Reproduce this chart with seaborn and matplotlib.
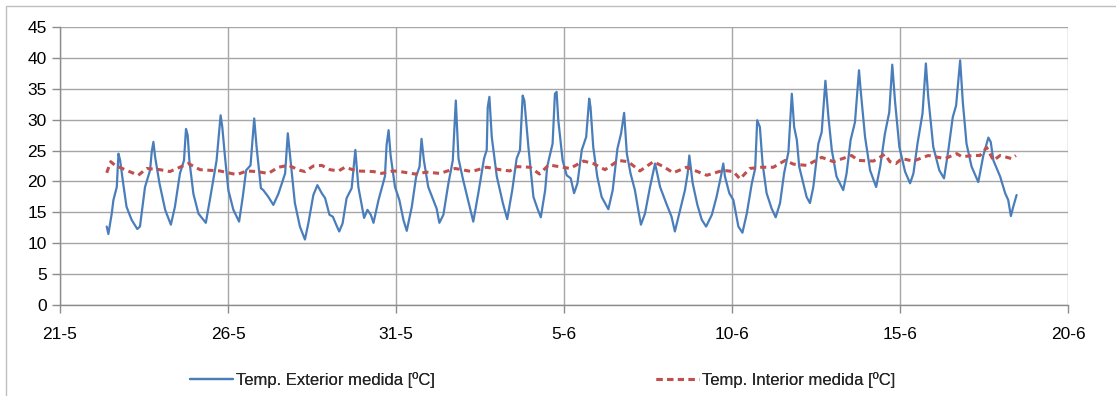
import numpy as np
import pandas as pd
import matplotlib
matplotlib.use("Agg")
import matplotlib.pyplot as plt
from matplotlib.patches import Rectangle
import seaborn as sns

# days counted from 21-5 (0) to 20-6 (30)
ext_days = [1.39, 1.44, 1.54, 1.59, 1.69, 1.74, 1.79, 1.88, 1.98, 2.13, 2.30, 2.38, 2.53, 2.68, 2.73, 2.78,
            2.83, 2.96, 3.13, 3.30, 3.42, 3.57, 3.69, 3.75, 3.80, 3.85, 3.97, 4.12, 4.34, 4.46, 4.66, 4.78,
            4.83, 4.91, 5.01, 5.16, 5.33, 5.44, 5.54, 5.67, 5.78, 5.85, 5.98, 6.05, 6.20, 6.35, 6.50, 6.70,
            6.78, 6.85, 6.99, 7.14, 7.29, 7.39, 7.54, 7.66, 7.79, 7.89, 8.02, 8.12, 8.22, 8.31, 8.41, 8.53,
            8.68, 8.79, 8.88, 9.05, 9.15, 9.25, 9.33, 9.48, 9.67, 9.72, 9.78, 9.84, 9.97, 10.10, 10.22, 10.32,
            10.47, 10.60, 10.70, 10.76, 10.83, 10.96, 11.11, 11.21, 11.29, 11.41, 11.56, 11.69, 11.78, 11.86,
            12.00, 12.18, 12.30, 12.45, 12.62, 12.70, 12.73, 12.78, 12.85, 13.00, 13.18, 13.31, 13.46, 13.59,
            13.69, 13.77, 13.82, 13.94, 14.09, 14.21, 14.31, 14.44, 14.50, 14.66, 14.73, 14.78, 14.83, 14.96,
            15.08, 15.20, 15.30, 15.40, 15.53, 15.66, 15.75, 15.79, 15.87, 15.99, 16.12, 16.32, 16.45, 16.59,
            16.70, 16.79, 16.87, 16.98, 17.11, 17.21, 17.29, 17.41, 17.56, 17.71, 17.86, 18.04, 18.20, 18.30,
            18.43, 18.60, 18.68, 18.73, 18.83, 18.97, 19.10, 19.23, 19.40, 19.54, 19.67, 19.74, 19.79, 19.92,
            20.04, 20.19, 20.31, 20.44, 20.59, 20.69, 20.75, 20.83, 20.91, 21.03, 21.18, 21.30, 21.43, 21.55,
            21.68, 21.78, 21.85, 21.93, 22.00, 22.12, 22.22, 22.32, 22.42, 22.57, 22.67, 22.78, 22.87, 22.97,
            23.11, 23.21, 23.31, 23.41, 23.53, 23.66, 23.78, 23.83, 23.96, 24.11, 24.29, 24.41, 24.55, 24.68,
            24.77, 24.85, 24.98, 25.15, 25.30, 25.40, 25.52, 25.67, 25.77, 25.84, 25.99, 26.17, 26.31, 26.44,
            26.57, 26.67, 26.79, 26.87, 26.98, 27.13, 27.33, 27.48, 27.63, 27.70, 27.78, 27.98, 28.13, 28.22,
            28.30, 28.37, 28.47]
ext_temp = [12.7, 11.5, 14.8, 17.0, 19.1, 24.5, 23.4, 19.7, 15.9, 13.8, 12.3, 12.7, 19.1, 21.8, 24.8, 26.4,
            24.0, 19.7, 15.4, 13.0, 15.9, 21.3, 23.4, 28.5, 27.5, 23.4, 18.0, 14.8, 13.3, 17.0, 23.4, 30.7,
            28.8, 24.0, 18.6, 15.4, 13.5, 17.5, 21.8, 22.6, 30.2, 25.6, 18.9, 18.6, 17.5, 16.2, 18.0, 21.3,
            27.8, 24.0, 16.5, 12.7, 10.6, 13.2, 17.8, 19.4, 18.1, 17.3, 14.6, 14.3, 13.0, 11.9, 13.2, 17.3,
            18.9, 25.1, 19.1, 14.1, 15.4, 14.6, 13.3, 17.0, 20.8, 25.9, 28.3, 24.2, 19.1, 17.0, 13.8, 12.0,
            15.9, 20.8, 22.4, 26.9, 23.4, 19.1, 17.0, 15.6, 13.3, 14.6, 19.7, 23.4, 33.1, 23.7,
            20.2, 16.2, 13.5, 18.1, 23.7, 25.1, 32.0, 33.7, 27.2, 20.8, 16.5, 13.9, 18.6, 23.7,
            25.1, 33.9, 33.1, 25.6, 17.5, 15.6, 14.2, 18.6, 22.4, 26.1, 34.2, 34.5, 29.9, 23.4,
            21.0, 20.5, 18.1, 19.7, 25.1, 27.2, 33.4, 32.0, 25.6, 20.8, 17.5, 15.5, 18.6, 25.3,
            27.8, 31.1, 24.5, 21.3, 18.6, 15.4, 13.0, 14.8, 19.1, 22.9, 19.1, 16.5, 14.3, 11.9,
            14.8, 18.6, 21.3, 24.2, 19.7, 16.2, 13.8, 12.7, 14.6, 17.5, 20.8, 22.9, 20.8, 18.1,
            17.0, 12.7, 11.7, 14.8, 19.7, 22.1, 29.9, 28.8, 22.9, 18.1, 15.6, 14.2, 16.5, 21.3,
            24.8, 34.2, 28.8, 26.7, 22.4, 19.7, 17.5, 16.5, 19.1, 26.1, 28.0, 36.3, 30.4, 25.1,
            20.8, 19.7, 18.6, 21.3, 26.7, 29.6, 38.0, 34.7, 27.2, 21.8, 19.1, 22.4, 27.7, 31.2,
            38.9, 33.1, 25.6, 21.6, 19.7, 21.3, 26.1, 31.0, 39.1, 33.7, 25.6, 21.8, 20.5, 25.1,
            30.4, 32.3, 39.6, 32.8, 26.1, 22.4, 19.9, 24.2, 27.1, 26.4, 23.4, 20.8, 18.1, 17.0,
            14.4, 15.9, 17.8]

int_days = [1.39, 1.51, 1.64, 1.98, 2.33, 2.58, 2.98, 3.27, 3.82, 4.17, 4.76, 5.26, 5.56, 5.85, 6.20, 6.50,
            6.80, 7.14, 7.29, 7.54, 7.79, 8.04, 8.29, 8.48, 8.83, 9.33, 9.57, 9.92, 10.12, 10.57, 10.91,
            11.31, 11.76, 12.25, 12.70, 13.10, 13.39, 13.59, 13.99, 14.27, 14.53, 14.63, 15.18, 15.58,
            15.87, 16.22, 16.62, 16.91, 17.26, 17.66, 17.96, 18.25, 18.65, 19.25, 19.74, 20.04, 20.24,
            20.53, 20.88, 21.23, 21.58, 21.83, 22.22, 22.67, 23.02, 23.56, 23.76, 24.21, 24.55, 24.70,
            24.88, 25.05, 25.40, 25.84, 26.34, 26.69, 26.84, 27.18, 27.38, 27.58, 27.78, 27.98, 28.32, 28.45]
int_temp = [21.4, 23.2, 22.6, 21.8, 21.0, 22.1, 21.9, 21.6, 22.9, 21.9, 21.7, 21.1, 21.7, 21.6, 21.3, 22.3,
            22.6, 21.8, 21.6, 22.5, 22.6, 21.9, 21.7, 22.3, 21.7, 21.6, 21.3, 21.7, 21.6, 21.2, 21.5,
            21.3, 22.1, 21.6, 22.3, 21.9, 21.7, 22.4, 22.3, 21.2, 22.6, 22.6, 22.1, 23.3,
            22.9, 21.9, 23.4, 23.2, 21.7, 23.2, 22.4, 21.4, 22.3, 21.0, 21.8, 21.6, 20.4,
            22.1, 22.3, 22.3, 23.4, 22.8, 22.6, 23.9, 23.2, 24.2, 23.4, 23.3, 24.4, 23.2,
            22.9, 23.7, 23.3, 24.2, 23.7, 24.5, 24.0, 24.2, 24.2, 25.5, 23.4, 24.2, 23.7, 24.2]

tick_days = [0, 5, 10, 15, 20, 25, 30]
tick_labels = ["21-5", "26-5", "31-5", "5-6", "10-6", "15-6", "20-6"]

sns.set_theme(style="white")
plt.rcParams["font.family"] = ["Liberation Sans", "DejaVu Sans"]

fig = plt.figure(figsize=(11.16, 3.96), dpi=100)
ax = fig.add_axes([60 / 1116, 91 / 396, 1008 / 1116, 278 / 396])

ext = pd.DataFrame({"dia": ext_days, "temp": ext_temp})
intr = pd.DataFrame({"dia": int_days, "temp": int_temp})

sns.lineplot(data=ext, x="dia", y="temp", ax=ax, color="#4a7ebb", linewidth=1.6,
             sort=False, label="Temp. Exterior medida [ºC]")
sns.lineplot(data=intr, x="dia", y="temp", ax=ax, color="#c0504d", linewidth=2.2,
             sort=False, label="Temp. Interior medida [ºC]", dashes=False)
ax.lines[1].set_linestyle((0, (2.0, 1.5)))

ax.set_xlim(0, 30)
ax.set_ylim(0, 45)
ax.set_xticks(tick_days)
ax.set_xticklabels(tick_labels)
ax.set_yticks(range(0, 46, 5))
ax.set_xlabel("")
ax.set_ylabel("")
ax.grid(True, color="#a6a6a6", linewidth=1.0)
for s in ["top", "right"]:
    ax.spines[s].set_visible(False)
for s in ["left", "bottom"]:
    ax.spines[s].set_color("#8c8c8c")
    ax.spines[s].set_linewidth(1.0)
ax.tick_params(axis="both", which="both", length=6, width=1, color="#8c8c8c",
               labelsize=12.5, labelcolor="black", direction="out", bottom=True, left=True)
ax.tick_params(axis="x", pad=10)

handles, labels = ax.get_legend_handles_labels()
ax.get_legend().remove()
for h, l, xpos in zip(handles, labels, [190, 656]):
    lg = fig.legend([h], [l], loc="center left", bbox_to_anchor=(xpos / 1116, 1 - 380 / 396),
                    frameon=False, fontsize=12, handlelength=2.6, handletextpad=0.15,
                    borderaxespad=0, borderpad=0)
    fig.add_artist(lg)

fig.patches.append(Rectangle((6 / 1116, -0.1), 1.2, 1.1 - 6 / 396, transform=fig.transFigure,
                             fill=False, edgecolor="#bfbfbf", linewidth=1.0))

fig.savefig("out.png", dpi=100)
